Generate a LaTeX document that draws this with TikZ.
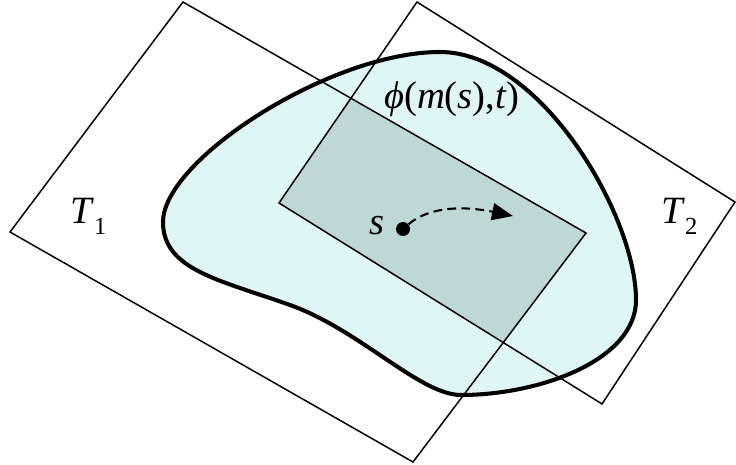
\documentclass[tikz,border=0pt]{standalone}
\usepackage{fontspec}
\setmainfont{Liberation Serif}
\usetikzlibrary{arrows.meta}
\definecolor{blobfill}{RGB}{223,247,244}
\definecolor{darkfill}{RGB}{190,216,213}
\newcommand\subsz{\fontsize{14}{15}\selectfont}
\begin{document}
\begin{tikzpicture}[x=0.02cm,y=-0.02cm,
  rect/.style={draw=black,line width=0.85pt,line join=miter},
  blobline/.style={draw=black,line width=2.3pt},
  lbl/.style={inner sep=0pt,font=\fontsize{22}{26}\selectfont}]
\useasboundingbox (0,0) rectangle (736,465);
\coordinate (a1) at (183,2);
\coordinate (a2) at (586,233);
\coordinate (a3) at (413,462);
\coordinate (a4) at (10,232);
\coordinate (b1) at (417,2);
\coordinate (b2) at (735,202);
\coordinate (b3) at (602,404);
\coordinate (b4) at (279,203);
\def\blobpath{(163,222) .. controls (163,160) and (330,52) .. (440,52)
  .. controls (540,52) and (636,215) .. (636,300)
  .. controls (636,360) and (540,395) .. (461,395)
  .. controls (420,395) and (360,330) .. (290,305)
  .. controls (220,280) and (163,270) .. (163,222) -- cycle}
\fill[blobfill] \blobpath;
\begin{scope}
  \clip (a1)--(a2)--(a3)--(a4)--cycle;
  \clip \blobpath;
  \fill[darkfill] (b1)--(b2)--(b3)--(b4)--cycle;
\end{scope}
\draw[blobline,line join=round] \blobpath;
\draw[rect] (a1)--(a2)--(a3)--(a4)--cycle;
\draw[rect] (b1)--(b2)--(b3)--(b4)--cycle;
\node[lbl,anchor=base] (phi) at (452,109) {\textit{ϕ}(\textit{m}(\textit{s}),\textit{t})};
\node[lbl,anchor=base west] (t1) at (70,224) {\textit{T}\raisebox{-6.2pt}{\subsz 1}};
\node[lbl,anchor=base west] (t2) at (661,224) {\textit{T}\raisebox{-6.2pt}{\subsz 2}};
\node[lbl,anchor=base west] (s) at (369,235) {\textit{s}};
\node[circle,fill=black,inner sep=0pt,minimum size=0.28cm] (dot) at (403,229) {};
\coordinate (tip) at (513,216);
\draw[line width=1.2pt,dash pattern=on 5pt off 3pt,-{Triangle[length=0.42cm,width=0.34cm]}] (dot) .. controls (430,206) and (465,206) .. (tip);
\end{tikzpicture}
\end{document}
